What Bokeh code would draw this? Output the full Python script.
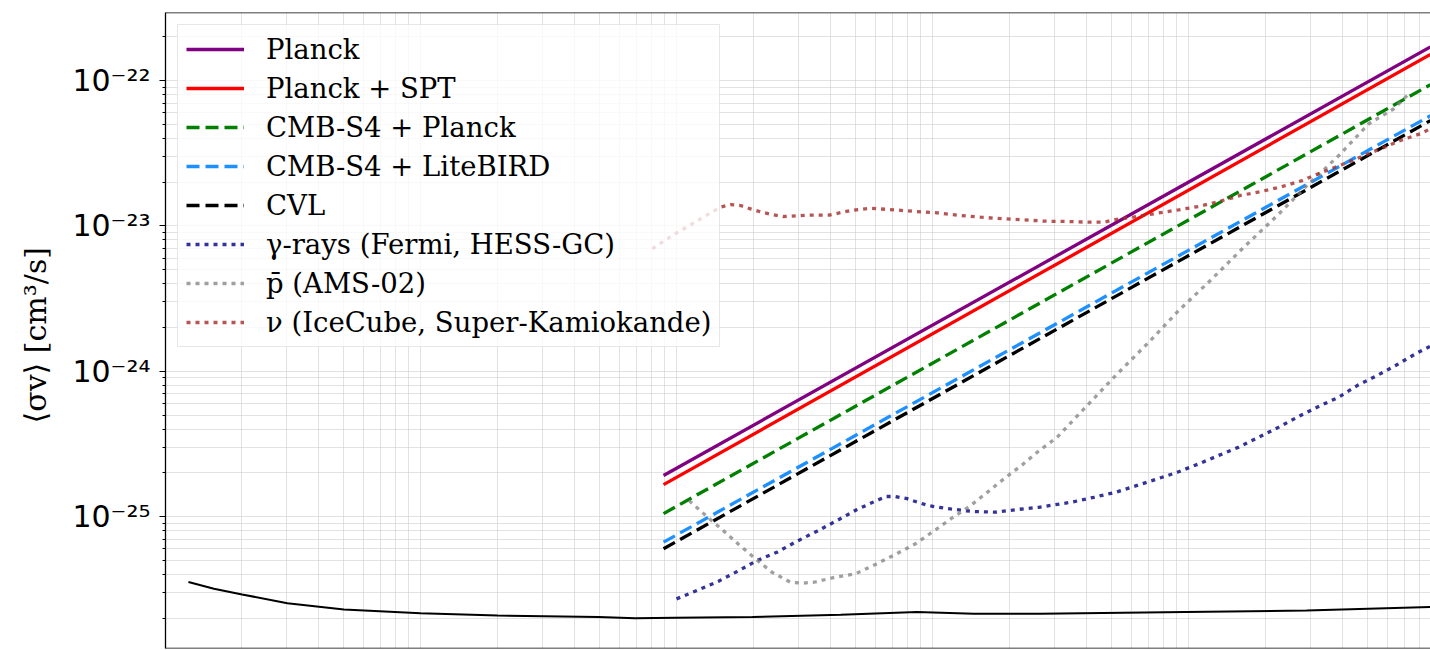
from bokeh.plotting import figure
from bokeh.models import (FixedTicker, CustomJSTickFormatter, Legend, LegendItem,
                          Span, Range1d)
from bokeh.embed import file_html
from bokeh.resources import INLINE

# ---------------- data: dark-matter mass [GeV] vs <sigma v> [cm^3/s] ----------------
cmb_mass = [8.9, 8810]
planck_sv = [1.92e-25, 1.70e-22]
planck_spt_sv = [1.66e-25, 1.51e-22]
s4_planck_sv = [1.05e-25, 9.36e-23]
s4_litebird_sv = [6.68e-26, 5.72e-23]
cvl_sv = [6.02e-26, 5.30e-23]

thermal_mass = [0.124, 0.156, 0.201, 0.302, 0.502, 1.0, 2.0, 4.96, 6.9, 9.9, 19.8,
                43.8, 87, 145, 264, 973, 2890, 8810]
thermal_sv = [3.55e-26, 3.19e-26, 2.92e-26, 2.54e-26, 2.30e-26, 2.17e-26, 2.09e-26,
              2.04e-26, 2.00e-26, 2.02e-26, 2.04e-26, 2.12e-26, 2.21e-26, 2.15e-26,
              2.15e-26, 2.21e-26, 2.26e-26, 2.39e-26]

gamma_mass = [10.0, 12.05, 14.6, 17.26, 20.65, 24.7, 29.6, 35.4, 42.4, 50.5, 60.4, 66.1,
              71.6, 79.6, 87.1, 96.6, 117.5, 142.8, 176, 214, 260, 351, 427, 518, 630,
              755, 904, 1097, 1313, 1573, 1882, 2254, 2738, 3280, 3866, 4560, 5460,
              6440, 7710, 8810]
gamma_sv = [2.72e-26, 3.11e-26, 3.60e-26, 4.20e-26, 5.00e-26, 5.70e-26, 6.79e-26,
            7.95e-26, 9.42e-26, 1.115e-25, 1.29e-25, 1.377e-25, 1.377e-25, 1.33e-25,
            1.26e-25, 1.19e-25, 1.13e-25, 1.086e-25, 1.074e-25, 1.12e-25, 1.16e-25,
            1.26e-25, 1.36e-25, 1.47e-25, 1.64e-25, 1.82e-25, 2.02e-25, 2.31e-25,
            2.64e-25, 3.01e-25, 3.52e-25, 4.13e-25, 4.97e-25, 5.82e-25, 6.64e-25,
            7.98e-25, 9.36e-25, 1.096e-24, 1.32e-24, 1.49e-24]

pbar_mass = [11.2, 13.0, 15.1, 17.5, 20.35, 23.6, 27.9, 31.0, 34.4, 41.8, 50.0, 59.8,
             71.6, 85.8, 101, 119.4, 140.7, 163.6, 190, 224, 260, 307, 402, 527, 700,
             916, 1237, 1636, 2188, 2909, 3866, 5060, 6340, 7360]
pbar_sv = [1.29e-25, 1.02e-25, 8.13e-26, 6.44e-26, 5.13e-26, 4.15e-26, 3.54e-26,
           3.49e-26, 3.54e-26, 3.84e-26, 4.05e-26, 4.69e-26, 5.50e-26, 6.51e-26,
           7.95e-26, 9.83e-26, 1.19e-25, 1.47e-25, 1.82e-25, 2.27e-25, 2.83e-25,
           3.52e-25, 5.82e-25, 9.61e-25, 1.585e-24, 2.62e-24, 4.33e-24, 7.07e-24,
           1.148e-23, 1.90e-23, 3.05e-23, 5.04e-23, 6.39e-23, 8.31e-23]

nu_mass = [8.04, 9.62, 11.5, 13.58, 14.85, 16.25, 17.8, 19.45, 21.6, 24.0, 26.2, 32.4,
           39.4, 47.8, 57.3, 70.6, 85.8, 104.3, 128.6, 154, 187, 227, 276, 336, 408,
           467, 511, 631, 755, 916, 1097, 1334, 1596, 1910, 2286, 2780, 3327, 3983,
           4695, 5623, 6730, 8054, 8810]
nu_sv = [6.96e-24, 8.59e-24, 1.03e-23, 1.23e-23, 1.345e-23, 1.40e-23, 1.38e-23,
         1.31e-23, 1.24e-23, 1.19e-23, 1.16e-23, 1.185e-23, 1.185e-23, 1.276e-23,
         1.32e-23, 1.29e-23, 1.256e-23, 1.23e-23, 1.18e-23, 1.148e-23, 1.12e-23,
         1.10e-23, 1.077e-23, 1.072e-23, 1.06e-23, 1.06e-23, 1.10e-23, 1.16e-23,
         1.223e-23, 1.29e-23, 1.36e-23, 1.48e-23, 1.62e-23, 1.72e-23, 1.85e-23,
         2.05e-23, 2.34e-23, 2.64e-23, 2.97e-23, 3.39e-23, 3.87e-23, 4.30e-23,
         4.66e-23]

labels = ["Planck", "Planck + SPT", "CMB-S4 + Planck", "CMB-S4 + LiteBIRD", "CVL",
          "γ-rays (Fermi, HESS-GC)", "p̄ (AMS-02)", "ν (IceCube, Super-Kamiokande)"]

x_major = [0.1, 1, 10, 100, 1000, 10000]
y_major = [1e-26, 1e-25, 1e-24, 1e-23, 1e-22, 1e-21]

# ---------------- figure ----------------
Y_TOP = 2.935e-22
Y_BOT = 1.24e-26
p = figure(width=1430, height=650, x_axis_type="log", y_axis_type="log",
           x_range=Range1d(0.1009, 8816), y_range=Range1d(Y_BOT, Y_TOP),
           output_backend="svg", toolbar_location=None,
           min_border_left=165, min_border_right=0, min_border_top=12,
           min_border_bottom=2, background_fill_color="white",
           border_fill_color="white")
p.outline_line_color = None

x_minor = [k * 10.0 ** n for n in range(-1, 4) for k in range(2, 10)]
y_minor = [k * 10.0 ** n for n in range(-27, -21) for k in range(2, 10)]
p.xaxis.ticker = FixedTicker(ticks=x_major, minor_ticks=x_minor)
p.yaxis.ticker = FixedTicker(ticks=y_major, minor_ticks=y_minor)
p.xaxis.visible = False

fmt = CustomJSTickFormatter(code="""
const e = Math.round(Math.log10(tick));
const sup = {'-':'\u207b','0':'\u2070','1':'\u00b9','2':'\u00b2','3':'\u00b3','4':'\u2074',
             '5':'\u2075','6':'\u2076','7':'\u2077','8':'\u2078','9':'\u2079'};
let s = '';
for (const c of String(e)) { s += sup[c]; }
return '10' + s;
""")
p.yaxis.formatter = fmt
p.yaxis.major_label_text_font = "DejaVu Sans"
p.yaxis.major_label_text_font_size = "30px"
p.yaxis.major_label_text_color = "black"
p.yaxis.major_label_standoff = 9
p.yaxis.major_tick_out = 6
p.yaxis.major_tick_in = 0
p.yaxis.minor_tick_out = 3
p.yaxis.minor_tick_in = 0
p.yaxis.axis_line_width = 1.3
p.yaxis.axis_line_color = "black"
p.yaxis.major_tick_line_color = "black"
p.yaxis.minor_tick_line_color = "black"
p.yaxis.axis_label = "⟨σv⟩  [cm³/s]"
p.yaxis.axis_label_text_font = "DejaVu Serif"
p.yaxis.axis_label_text_font_size = "30px"
p.yaxis.axis_label_text_font_style = "normal"
p.yaxis.axis_label_text_color = "black"
p.yaxis.axis_label_standoff = 16

for g in (p.xgrid, p.ygrid):
    g.grid_line_color = "#c4c4c4"
    g.grid_line_dash = "1 1"
    g.grid_line_width = 1
    g.minor_grid_line_color = "#c4c4c4"
    g.minor_grid_line_dash = "1 1"
    g.minor_grid_line_width = 1

p.add_layout(Span(location=Y_TOP, dimension="width", line_color="black",
                  line_width=1.3))
p.add_layout(Span(location=Y_BOT, dimension="width", line_color="black",
                  line_width=1.3))

# ---------------- glyphs ----------------
p.line(thermal_mass, thermal_sv, line_color="black", line_width=2)

LW = 3.3
r_planck = p.line(cmb_mass, planck_sv, line_color="purple", line_width=LW)
r_spt = p.line(cmb_mass, planck_spt_sv, line_color="red", line_width=LW)
r_s4p = p.line(cmb_mass, s4_planck_sv, line_color="green", line_width=LW,
               line_dash="13 6")
r_s4l = p.line(cmb_mass, s4_litebird_sv, line_color="dodgerblue", line_width=LW,
               line_dash="13 6")
r_cvl = p.line(cmb_mass, cvl_sv, line_color="black", line_width=LW, line_dash="13 6")
r_gam = p.line(gamma_mass, gamma_sv, line_color="navy", line_alpha=0.8,
               line_width=LW, line_dash="4 5")
r_pbar = p.line(pbar_mass, pbar_sv, line_color="gray", line_alpha=0.75,
                line_width=LW, line_dash="4 5")
r_nu = p.line(nu_mass, nu_sv, line_color="brown", line_alpha=0.8,
              line_width=LW, line_dash="4 5")

renderers = [r_planck, r_spt, r_s4p, r_s4l, r_cvl, r_gam, r_pbar, r_nu]
legend = Legend(items=[LegendItem(label=l, renderers=[r]) for l, r in zip(labels, renderers)],
                location="top_left", margin=12, padding=8, spacing=7,
                glyph_width=58, glyph_height=30, label_height=30, label_standoff=22,
                label_text_font="DejaVu Serif", label_text_font_size="27.5px",
                label_text_color="black",
                border_line_color="#d0d0d0", border_line_width=1,
                background_fill_color="white", background_fill_alpha=0.8)
p.add_layout(legend)

open("out.html", "w").write(file_html(p, INLINE))
